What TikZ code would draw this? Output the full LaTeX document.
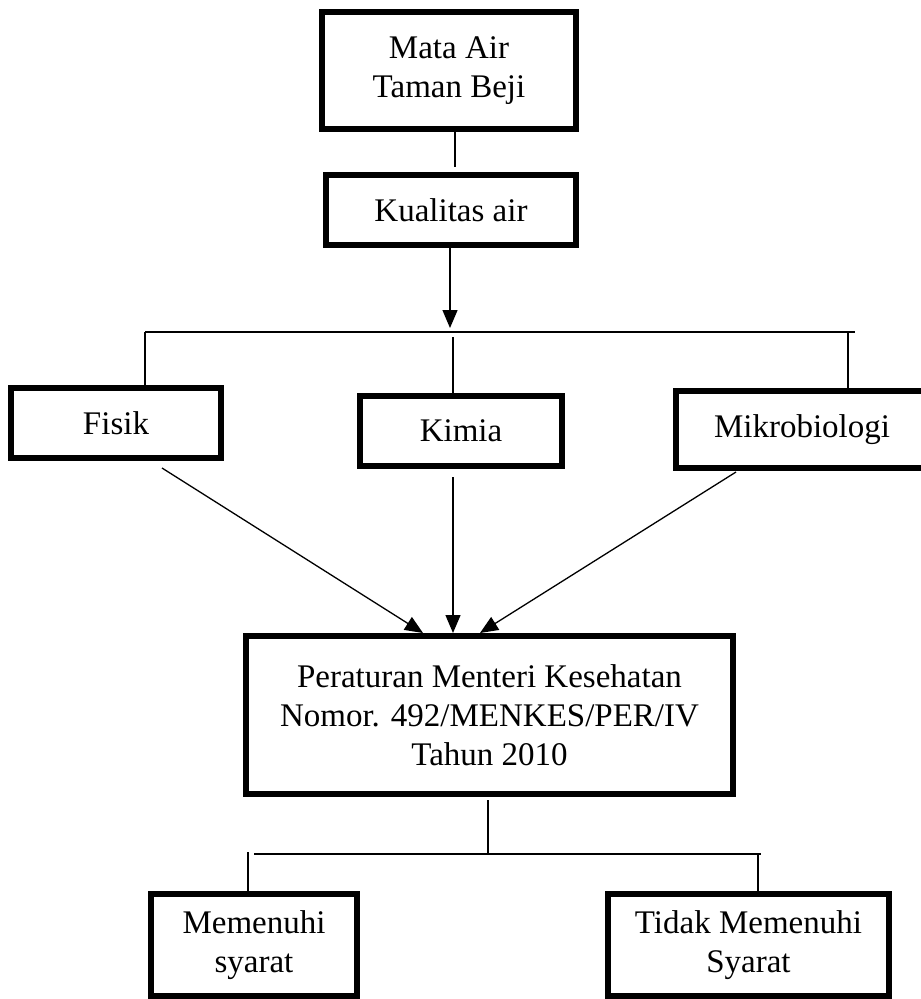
\documentclass[tikz,border=0pt]{standalone}
\usepackage{fontspec}
\setmainfont{Liberation Serif}
\usetikzlibrary{arrows.meta,calc}
\begin{document}
\begin{tikzpicture}[x=1pt,y=-1pt,
  box/.style={draw, line width=6pt, inner sep=0pt, align=center,
    font=\fontsize{33}{39}\selectfont},
  conn/.style={line width=1.3pt},
  arr/.style={line width=1.3pt, -{Triangle[length=18pt,width=15pt]}}]
\useasboundingbox (0,0) rectangle (921,999);
% boxes
\node[box, minimum width=254, minimum height=117] (top) at (449,70.5) {Mata Air\\Taman Beji};
\node[box, minimum width=250, minimum height=70] (kual) at (451,210) {Kualitas air};
\node[box, minimum width=210, minimum height=70] (fisik) at (116,423) {Fisik};
\node[box, minimum width=202, minimum height=70] (kimia) at (461,431) {Kimia};
\node[box, minimum width=252, minimum height=77] (mikro) at (802,429.5) {Mikrobiologi};
\node[box, minimum width=487, minimum height=158] (perm) at (489.5,715) {Peraturan Menteri Kesehatan\\Nomor. 492/MENKES/PER/IV\\Tahun 2010};
\node[box, minimum width=206, minimum height=102] (mem) at (254,945) {Memenuhi\\syarat};
\node[box, minimum width=281, minimum height=102] (tidak) at (748.5,945) {Tidak Memenuhi\\Syarat};
% junction coordinates
\coordinate (t1) at (455,167);
\coordinate (kt) at (450,328);
\coordinate (bl) at (145,332);
\coordinate (br) at (855,332);
\coordinate (kv) at (453,337);
\coordinate (mv) at (848,332);
\coordinate (pb) at (488,854);
\coordinate (bl2) at (254,854);
\coordinate (br2) at (761,854);
\coordinate (lv) at (248,852);
\coordinate (rv) at (758,854);
% connectors
\draw[conn] (top.south -| t1) -- (t1);
\draw[arr] (kual.south -| kt) -- (kt);
\draw[conn] (bl) -- (br);
\draw[conn] (bl) -- (bl |- fisik.north);
\draw[conn] (kv) -- (kv |- kimia.north);
\draw[conn] (mv) -- (mv |- mikro.north);
\draw[arr] ($(fisik.south)+(46,7)$) -- ($(perm.north)+(-66.5,0)$);
\draw[arr] ($(kimia.south)+(-8,8)$) -- ($(perm.north)+(-36.5,0)$);
\draw[arr] ($(mikro.south)+(-66,1)$) -- ($(perm.north)+(-9.5,0)$);
\draw[conn] ($(perm.south -| pb)+(0,3)$) -- (pb);
\draw[conn] (bl2) -- (br2);
\draw[conn] (lv) -- (lv |- mem.north);
\draw[conn] (rv) -- (rv |- tidak.north);
\end{tikzpicture}
\end{document}
